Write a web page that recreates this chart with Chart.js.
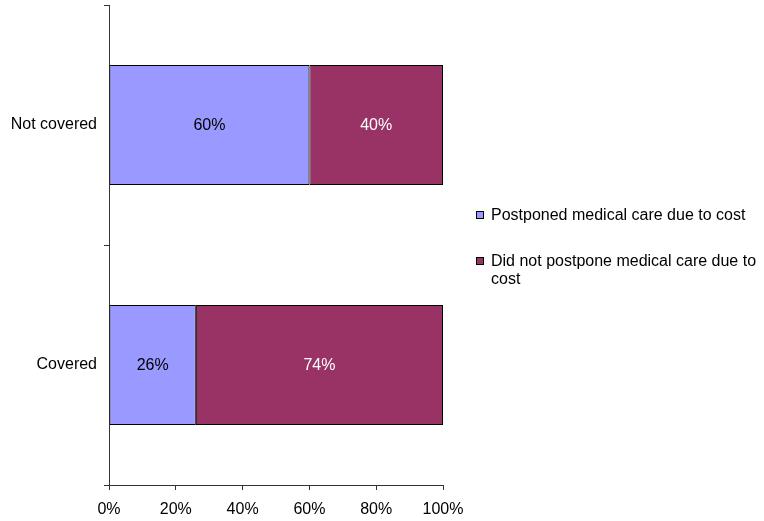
<!DOCTYPE html>
<html>
<head>
<meta charset="utf-8">
<script src="https://cdn.jsdelivr.net/npm/chart.js@4"></script>
<style>
  html, body { margin: 0; padding: 0; background: #fff; }
  #wrap { position: relative; width: 764px; height: 521px; }
  #chart { position: absolute; left: 0; top: 0; }
  .legend { position: absolute; left: 476px; font: 16px 'Liberation Sans', Arial, sans-serif; color: #000; }
  .legend .item { position: relative; padding-left: 15px; line-height: 18px; width: 290px; }
  .legend .sw { position: absolute; left: 0; top: 5px; width: 6px; height: 6px; border: 1px solid #000; }
</style>
</head>
<body>
<div id="wrap">
  <canvas id="chart" width="764" height="521"></canvas>
  <div class="legend" id="legend"></div>
</div>
<script>
// ── Data ──
const categories = ['Not covered', 'Covered'];
const postponed = [60, 26];
const notPostponed = [40, 74];
const seriesNames = ['Postponed medical care due to cost', 'Did not postpone medical care due to cost'];
const xTicks = [0, 20, 40, 60, 80, 100];

const colors = ['#9999FF', '#993366'];
const labelColors = ['#000', '#fff'];
const FONT = "'Liberation Sans', Arial, sans-serif";

// ── Segment labels ──
const segmentLabels = {
  id: 'segmentLabels',
  afterDatasetsDraw(chart) {
    const ctx = chart.ctx;
    ctx.save();
    ctx.font = '16px ' + FONT;
    ctx.textAlign = 'center';
    ctx.textBaseline = 'middle';
    chart.data.datasets.forEach((ds, i) => {
      chart.getDatasetMeta(i).data.forEach((bar, j) => {
        ctx.fillStyle = labelColors[i];
        ctx.fillText(ds.data[j] + '%', (bar.x + bar.base) / 2, bar.y + 1);
      });
    });
    ctx.restore();
  }
};

new Chart(document.getElementById('chart'), {
  type: 'bar',
  data: {
    labels: categories,
    datasets: [
      { label: seriesNames[0], data: postponed, backgroundColor: colors[0], borderColor: '#000', borderWidth: 1, borderSkipped: false },
      { label: seriesNames[1], data: notPostponed, backgroundColor: colors[1], borderColor: '#000', borderWidth: 1, borderSkipped: false }
    ]
  },
  options: {
    indexAxis: 'y',
    responsive: false,
    animation: false,
    layout: { padding: { top: 5, right: 321, left: 0, bottom: 0 } },
    datasets: { bar: { barPercentage: 0.5, categoryPercentage: 1 } },
    plugins: { legend: { display: false }, tooltip: { enabled: false } },
    scales: {
      x: {
        stacked: true,
        min: 0,
        max: 100,
        afterBuildTicks: s => { s.ticks = xTicks.map(v => ({ value: v })); },
        ticks: { callback: v => v + '%', color: '#000', font: { size: 16, family: FONT }, padding: 10, maxRotation: 0 },
        grid: { drawOnChartArea: false, tickLength: 5, color: '#333' },
        border: { color: '#333' },
        afterFit: s => { s.height = 36; s.paddingLeft = 0; s.paddingRight = 0; }
      },
      y: {
        stacked: true,
        ticks: { color: '#000', font: { size: 16, family: FONT }, padding: 7 },
        grid: { drawOnChartArea: false, tickLength: 5, color: '#333', offset: true },
        border: { color: '#333' },
        afterFit: s => { s.width = 109; s.paddingTop = 0; s.paddingBottom = 0; }
      }
    }
  },
  plugins: [segmentLabels]
});

// ── Legend ──
const legend = document.getElementById('legend');
legend.style.top = '206px';
legend.innerHTML = seriesNames.map((name, i) =>
  `<div class="item" style="margin-bottom:${i === 0 ? 28 : 0}px"><span class="sw" style="background:${colors[i]}"></span>${i === 1 ? name.replace('due to cost', 'due to<br>cost') : name}</div>`
).join('');
</script>
</body>
</html>
